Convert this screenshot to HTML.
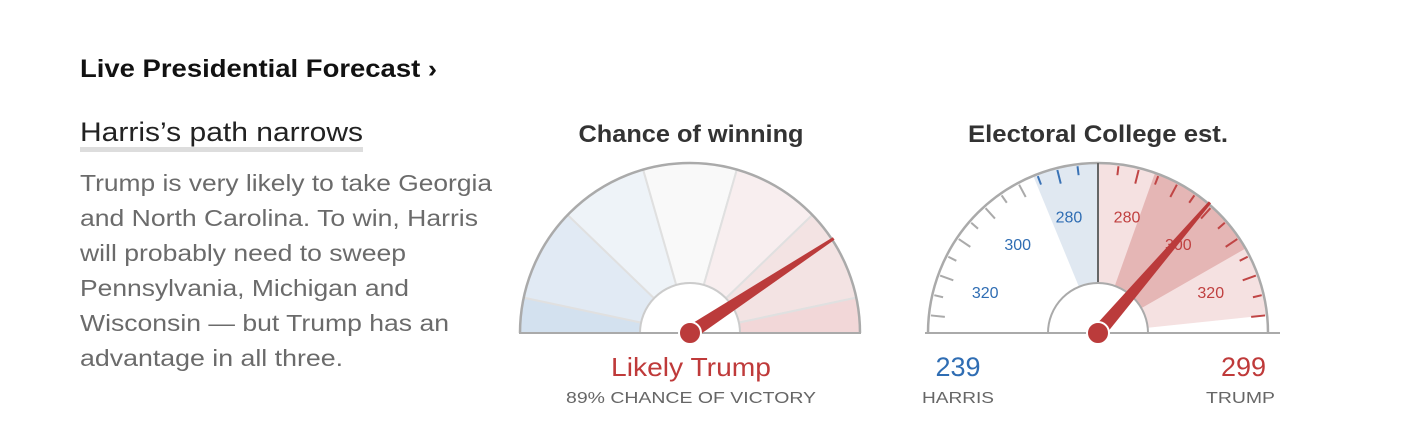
<!DOCTYPE html>
<html><head><meta charset="utf-8"><style>
html,body{margin:0;padding:0;background:#fff;width:1421px;height:434px;overflow:hidden}
svg{display:block;font-family:"Liberation Sans",sans-serif}
</style></head><body>
<svg id="c" width="1421" height="434" viewBox="0 0 1421 434">
<text x="80" y="77" font-size="25" font-weight="bold" fill="#111" textLength="357" lengthAdjust="spacingAndGlyphs">Live Presidential Forecast ›</text>
<text x="80" y="141" font-size="27" fill="#222" textLength="283" lengthAdjust="spacingAndGlyphs">Harris’s path narrows</text>
<rect x="80" y="147" width="283" height="5" fill="#ddd"/>
<g fill="#6b6b6b" font-size="23">
<text x="80" y="191" textLength="412" lengthAdjust="spacingAndGlyphs">Trump is very likely to take Georgia</text>
<text x="80" y="226" textLength="398" lengthAdjust="spacingAndGlyphs">and North Carolina. To win, Harris</text>
<text x="80" y="261" textLength="326" lengthAdjust="spacingAndGlyphs">will probably need to sweep</text>
<text x="80" y="296" textLength="329" lengthAdjust="spacingAndGlyphs">Pennsylvania, Michigan and</text>
<text x="80" y="331" textLength="369" lengthAdjust="spacingAndGlyphs">Wisconsin — but Trump has an</text>
<text x="80" y="366" textLength="263" lengthAdjust="spacingAndGlyphs">advantage in all three.</text>
</g>
<text x="691" y="142" font-size="24" font-weight="bold" fill="#333" text-anchor="middle" textLength="225" lengthAdjust="spacingAndGlyphs">Chance of winning</text>
<text x="1098" y="142" font-size="24" font-weight="bold" fill="#333" text-anchor="middle" textLength="260" lengthAdjust="spacingAndGlyphs">Electoral College est.</text>
<g id="g1"></g>
<g id="g2"></g>
<text x="691" y="376" font-size="26" fill="#bf3a3a" text-anchor="middle" textLength="160" lengthAdjust="spacingAndGlyphs">Likely Trump</text>
<text x="691" y="403" font-size="16" fill="#666" text-anchor="middle" textLength="250" lengthAdjust="spacingAndGlyphs">89% CHANCE OF VICTORY</text>
<text x="958" y="376" font-size="27" fill="#2f6db3" text-anchor="middle">239</text>
<text x="958" y="403" font-size="16" fill="#666" text-anchor="middle" textLength="72" lengthAdjust="spacingAndGlyphs">HARRIS</text>
<text x="1266" y="376" font-size="27" fill="#bf3a3a" text-anchor="end">299</text>
<text x="1275" y="403" font-size="16" fill="#666" text-anchor="end" textLength="69" lengthAdjust="spacingAndGlyphs">TRUMP</text>
</svg>
<script>
// Gauge 1 data
const chanceThresholds=[0,0.07,0.25,0.4,0.6,0.85,0.97,1];
const chanceAngles=[180,168,136,106,74,44,12,0];
const chanceColors=['#d3e1ef','#e1eaf4','#eef3f8','#f9f9f9','#f8eeef','#f3e3e3','#f2d7d8'];
const trumpChance=0.89;
// Gauge 2 data
const harrisEV=239, trumpEV=299;
const harrisBand=[270,286];
const trumpWideBand=[270,330];
const trumpNarrowBand=[284,313];
const evTickLabels=[280,300,320];

const NS='http://www.w3.org/2000/svg';
function mk(t,a,p){const e=document.createElementNS(NS,t);for(const k in a)e.setAttribute(k,a[k]);p.appendChild(e);return e;}
function pt(cx,cy,r,deg){const a=deg*Math.PI/180;return [cx+r*Math.cos(a),cy-r*Math.sin(a)];}
function sector(cx,cy,r0,r1,a0,a1){const p1=pt(cx,cy,r1,a0),p2=pt(cx,cy,r1,a1),p3=pt(cx,cy,r0,a1),p4=pt(cx,cy,r0,a0);
 const lg=Math.abs(a0-a1)>180?1:0;
 return `M${p1}A${r1},${r1} 0 ${lg} 1 ${p2}L${p3}A${r0},${r0} 0 ${lg} 0 ${p4}Z`;}
function needle(g,cx,cy,deg,len,name){
 const a=deg*Math.PI/180,ux=Math.cos(a),uy=-Math.sin(a),nx=-uy,ny=ux;
 const tip=[cx+ux*len,cy+uy*len];
 const d=`M${cx+nx*7},${cy+ny*7}L${tip[0]+nx*1.5},${tip[1]+ny*1.5}L${tip[0]-nx*1.5},${tip[1]-ny*1.5}L${cx-nx*7},${cy-ny*7}Z`;
 const n=mk('path',{d,fill:'#bb3b3b'},g);
 
 
 const h=mk('circle',{cx,cy,r:11,fill:'#bb3b3b',stroke:'#fff','stroke-width':2},g);
 
 
}
// Gauge 1
(function(){
 const g=document.getElementById('g1'),cx=690,cy=333,R=170,r=50;
 function ang(p){for(let i=0;i<chanceThresholds.length-1;i++){if(p<=chanceThresholds[i+1]){const f=(p-chanceThresholds[i])/(chanceThresholds[i+1]-chanceThresholds[i]);return chanceAngles[i]+f*(chanceAngles[i+1]-chanceAngles[i]);}}return 0;}
 for(let i=0;i<chanceColors.length;i++){
  const s=mk('path',{d:sector(cx,cy,r,R,chanceAngles[i],chanceAngles[i+1]),fill:chanceColors[i],stroke:'#e0e0e0','stroke-width':2},g);
  
  
 }
 mk('path',{d:`M${cx-R},${cy}A${R},${R} 0 0 1 ${cx+R},${cy}`,fill:'none',stroke:'#aaa','stroke-width':2.5},g);
 mk('path',{d:`M${cx-r},${cy}A${r},${r} 0 0 1 ${cx+r},${cy}`,fill:'#fff',stroke:'#ccc','stroke-width':2},g);
 mk('line',{x1:cx-R-1,y1:cy,x2:cx+R+1,y2:cy,stroke:'#aaa','stroke-width':2},g);
 needle(g,cx,cy,ang(trumpChance),172,'chance-needle');
})();
// Gauge 2
(function(){
 const g=document.getElementById('g2'),cx=1098,cy=333,R=170,r=50,k=1.4;
 const hA=v=>90+(v-270)*k, tA=v=>90-(v-270)*k;
 function band(a0,a1,fill,name){const s=mk('path',{d:sector(cx,cy,0,R,a0,a1),fill},g);
  
  }
 band(hA(harrisBand[1]),hA(harrisBand[0]),'#e0e8f1','harris-range');
 band(tA(trumpWideBand[0]),tA(trumpWideBand[1]),'#f5e1e1','trump-wide-range');
 band(tA(trumpNarrowBand[0]),tA(trumpNarrowBand[1]),'#e5b6b5','trump-narrow-range');
 for(let v=275;v<=334;v+=5){
  const L=(v%10===0)?14:9;
  const bh=v<=harrisBand[1];
  let a=hA(v),p1=pt(cx,cy,R-2,a),p2=pt(cx,cy,R-2-L,a);
  mk('line',{x1:p1[0],y1:p1[1],x2:p2[0],y2:p2[1],stroke:bh?'#3a72b5':'#aaa','stroke-width':2},g);
  a=tA(v);p1=pt(cx,cy,R-2,a);p2=pt(cx,cy,R-2-L,a);
  mk('line',{x1:p1[0],y1:p1[1],x2:p2[0],y2:p2[1],stroke:'#c04545','stroke-width':2},g);
 }
 evTickLabels.forEach(v=>{
  let p=pt(cx,cy,120,hA(v));
  const t1=mk('text',{x:p[0],y:p[1]+6,'font-size':16,fill:'#2f6db3','text-anchor':'middle'},g);t1.textContent=v;
  
  
  p=pt(cx,cy,120,tA(v));
  const t2=mk('text',{x:p[0],y:p[1]+6,'font-size':16,fill:'#c04040','text-anchor':'middle'},g);t2.textContent=v;
  
  
 });
 mk('path',{d:`M${cx-R},${cy}A${R},${R} 0 0 1 ${cx+R},${cy}`,fill:'none',stroke:'#aaa','stroke-width':2.5},g);
 mk('line',{x1:cx,y1:cy-R,x2:cx,y2:cy-r,stroke:'#666','stroke-width':2},g);
 mk('path',{d:`M${cx-r},${cy}A${r},${r} 0 0 1 ${cx+r},${cy}`,fill:'#fff',stroke:'#aaa','stroke-width':2},g);
 mk('line',{x1:cx-R-3,y1:cy,x2:cx+R+12,y2:cy,stroke:'#aaa','stroke-width':2},g);
 needle(g,cx,cy,tA(trumpEV),172,'electoral-needle');
})();
</script>
</body></html>
